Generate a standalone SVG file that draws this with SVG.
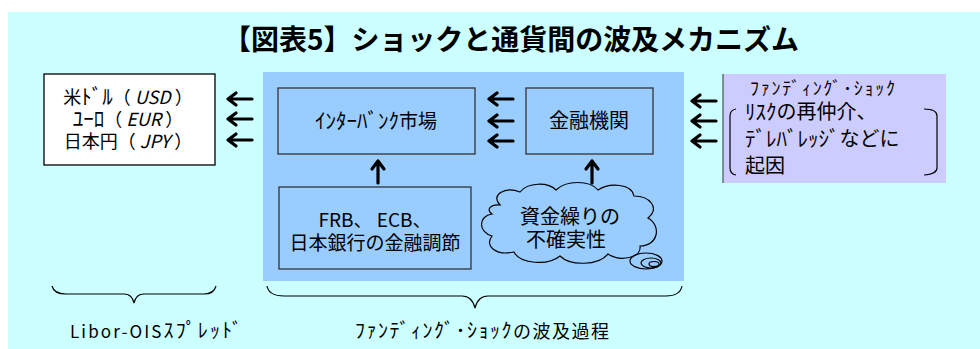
<svg xmlns="http://www.w3.org/2000/svg" width="980" height="349" viewBox="0 0 980 349">
<style>
text{font-family:"Noto Sans CJK JP","Noto Sans",sans-serif;fill:#000}
.t18{font-size:18px}
.t19{font-size:19px}
.t20{font-size:20px}
.hk{font-size:21px}
.box{fill:none;stroke:#333;stroke-width:1.3}
.arr{fill:none;stroke:#000;stroke-width:3.2;stroke-linecap:round;stroke-linejoin:round}
.brace{fill:none;stroke:#000;stroke-width:1.2}
</style>
<defs>
<path id="la" d="M0,0 H24 M0,0 L8,-6 M0,0 L8,6"/>
<path id="ua" d="M0,0 V22 M0,0 L-6,8 M0,0 L6,8"/>
</defs>
<rect x="8" y="12" width="972" height="337" fill="#CCFFFF"/>
<text x="511" y="50" text-anchor="middle" textLength="576" lengthAdjust="spacing" style="font-size:28px;font-weight:bold">【図表5】ショックと通貨間の波及メカニズム</text>

<g id="panel"><rect x="263" y="72" width="421" height="209" fill="#99CCFF"/></g>

<g id="currencies">
<rect x="44" y="74" width="171" height="91" fill="#fff" stroke="#000" stroke-width="1.3"/>
<text class="t18" x="128" y="104" text-anchor="middle">米<tspan class="hk">ﾄﾞﾙ</tspan>（ <tspan font-style="italic">USD</tspan> ）</text>
<text class="t18" x="128" y="126" text-anchor="middle"><tspan class="hk">ﾕｰﾛ</tspan>（ <tspan font-style="italic">EUR</tspan> ）</text>
<text class="t18" x="128" y="148" text-anchor="middle">日本円（ <tspan font-style="italic">JPY</tspan> ）</text>
</g>

<g id="interbank">
<rect class="box" x="278" y="88" width="197" height="66"/>
<text class="t19" x="376" y="128" text-anchor="middle"><tspan class="hk">ｲﾝﾀｰﾊﾞﾝｸ</tspan>市場</text>
</g>

<g id="institutions">
<rect class="box" x="526" y="88" width="127" height="66"/>
<text class="t20" x="589" y="128" text-anchor="middle">金融機関</text>
</g>

<g id="central-banks">
<rect class="box" x="279" y="187" width="192" height="82"/>
<text class="t19" x="375" y="227" text-anchor="middle">FRB、 ECB、</text>
<text class="t19" x="375" y="250" text-anchor="middle">日本銀行の金融調節</text>
</g>

<g id="cloud">
<path d="M500,205 C490,195 505,186 520,192 C528,182 548,182 556,190 C566,180 590,180 598,190 C610,182 632,184 634,196 C650,196 660,208 648,218 C662,226 658,246 640,246 C642,258 620,262 608,254 C598,266 570,266 560,256 C548,266 520,264 514,252 C496,256 484,246 492,236 C478,232 478,216 492,214 C486,210 490,204 500,205 Z" fill="#99CCFF" stroke="#000" stroke-width="1.2"/>
<ellipse cx="646" cy="261" rx="16" ry="8" fill="none" stroke="#000" stroke-width="1.2"/>
<ellipse cx="651" cy="263" rx="10" ry="5" fill="none" stroke="#000" stroke-width="1.2"/>
<ellipse cx="654" cy="264" rx="5" ry="2.5" fill="none" stroke="#000" stroke-width="1.2"/>
<text class="t20" x="570" y="224" text-anchor="middle">資金繰りの</text>
<text class="t20" x="566" y="247" text-anchor="middle">不確実性</text>
</g>

<g id="funding-shock">
<rect x="723" y="74" width="223" height="109" fill="#CCCCFF"/>
<line x1="723" y1="74" x2="723" y2="183" stroke="#333" stroke-width="1"/>
<text x="750" y="95" textLength="145" lengthAdjust="spacing" style="font-size:18px">ﾌｧﾝﾃﾞｨﾝｸﾞ･ｼｮｯｸ</text>
<path class="brace" d="M736,109 Q730,110 730,116 V168 Q730,174 736,175"/>
<path class="brace" d="M924,109 Q937,109 937,116 V168 Q937,174 924,175"/>
<text class="t20" x="745" y="119"><tspan class="hk">ﾘｽｸ</tspan>の再仲介、</text>
<text class="t20" x="745" y="146"><tspan class="hk">ﾃﾞﾚﾊﾞﾚｯｼﾞ</tspan>などに</text>
<text class="t20" x="745" y="173">起因</text>
</g>

<g id="connectors">
<use href="#la" class="arr" x="228" y="99"/>
<use href="#la" class="arr" x="228" y="119"/>
<use href="#la" class="arr" x="228" y="140"/>
<use href="#la" class="arr" x="489" y="99"/>
<use href="#la" class="arr" x="489" y="121"/>
<use href="#la" class="arr" x="489" y="141"/>
<use href="#la" class="arr" x="692" y="101"/>
<use href="#la" class="arr" x="692" y="121"/>
<use href="#la" class="arr" x="692" y="141"/>
<use href="#ua" class="arr" x="378" y="161"/>
<use href="#ua" class="arr" x="592" y="161"/>
</g>

<g id="labels">
<path class="brace" d="M52,286 Q54,294 66,294 H124 Q132,294 134,303 Q136,294 144,294 H204 Q214,294 216,286"/>
<text x="70" y="338" textLength="172" lengthAdjust="spacing" style="font-size:17px">Libor-OIS<tspan style="font-size:20px">ｽﾌﾟﾚｯﾄﾞ</tspan></text>
<path class="brace" d="M267,286 Q269,296 284,296 H462 Q472,296 475,308 Q478,296 488,296 H666 Q680,296 682,286"/>
<text x="355" y="338" textLength="254" lengthAdjust="spacing" style="font-size:18px"><tspan style="font-size:20px">ﾌｧﾝﾃﾞｨﾝｸﾞ･ｼｮｯｸ</tspan>の波及過程</text>
</g>
</svg>
